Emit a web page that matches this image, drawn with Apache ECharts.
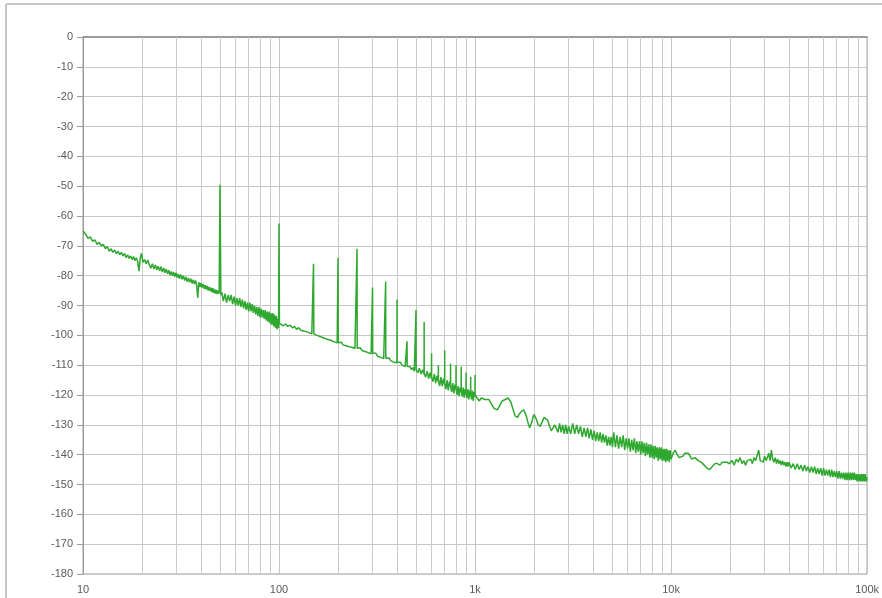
<!DOCTYPE html>
<html>
<head>
<meta charset="utf-8">
<script src="https://cdn.jsdelivr.net/npm/echarts@6/dist/echarts.min.js"></script>
<style>
html,body{margin:0;padding:0;background:#fff;}
#chart{width:882px;height:598px;}
</style>
</head>
<body>
<div id="chart"></div>
<script>
// Tick values and labels
const xTickValues = [10, 100, 1000, 10000, 100000];
const xTickLabels = ['10', '100', '1k', '10k', '100k'];
const yMin = -180, yMax = 0, yStep = 10;
// Minor (non-decade) vertical grid lines of the log axis
const minorGridFreqs = [20,30,40,50,60,70,80,90,
  200,300,400,500,600,700,800,900,
  2000,3000,4000,5000,6000,7000,8000,9000,
  20000,30000,40000,50000,60000,70000,80000,90000];

// Spectrum: [frequency Hz, level dB]
const spectrumLow = [
[10,-65],[10.3,-66],[10.6,-67.5],[10.9,-67],[11.2,-68.5],[11.5,-68],[11.8,-69.5],[12.1,-68.8],[12.4,-70],[12.7,-69.5],
[13,-71],[13.3,-70.2],[13.6,-71.8],[13.9,-71],[14.2,-72.2],[14.5,-71.4],[14.8,-72.6],[15.1,-71.8],[15.4,-73],[15.7,-72.2],
[16,-73.4],[16.3,-72.6],[16.6,-74],[16.9,-73],[17.2,-74.2],[17.5,-73.4],[17.8,-74.6],[18.1,-73.6],[18.4,-75],[18.7,-74],
[19,-75.2],[19.3,-78.5],[19.6,-74],[19.9,-72.5],[20.2,-75.5],[20.6,-74.6],[21,-76],[21.4,-74.8],[21.8,-76.4],[22.2,-77.5],
[22.6,-76],[23,-77.8],[23.4,-76.4],[23.8,-78],[24.2,-76.8],[24.6,-78.4],[25,-77],[25.4,-78.8],[25.8,-77.4],[26.2,-79],
[26.6,-77.8],[27,-79.4],[27.4,-78.2],[27.8,-79.8],[28.2,-78.6],[28.6,-80],[29,-78.8],[29.4,-80.4],[29.8,-79],[30.2,-80.6],
[30.6,-79.4],[31,-81],[31.5,-79.6],[32,-81.2],[32.5,-80],[33,-81.6],[33.5,-80.4],[34,-82],[34.5,-80.8],[35,-82.2],
[35.5,-81],[36,-82.6],[36.5,-81.4],[37,-82.8],[37.5,-81.6],[38,-83.2],[38.5,-87.5],[39,-82.2],[39.5,-83.8],[40,-82.4],
[40.5,-84],[41,-82.8],[41.5,-84.4],[42,-83.2],[42.5,-84.6],[43,-83.4],[43.5,-85],[44,-83.8],[44.5,-85.2],[45,-84],
[45.5,-85.6],[46,-84.2],[46.5,-85.8],[47,-84.6],[47.5,-86],[48,-84.8],[48.5,-86.2],[49,-85],[49.5,-86],[50,-49.5],[50.5,-86.5],
[51,-85.5],[52,-88.5],[53,-86],[54,-89],[55,-86.5],[56,-88.5],[57,-86.5],[58,-89.5],[59,-87],[60,-90],
[61,-87.5],[62,-90],[63,-87.5],[64,-90.5],[65,-88],[66,-91],[67,-88.5],[68,-91.5],[69,-89],[70,-92],
[71,-89],[72,-92],[73,-89.5],[74,-92.5],[75,-90],[76,-93],[77,-90.5],[78,-93.5],[79,-90.5],[80,-94],
[81,-91],[82,-94],[83,-91.5],[84,-94.5],[85,-91.5],[86,-95],[87,-92],[88,-95.5],[89,-92],[90,-96],
[91,-92.5],[92,-96.5],[93,-92.5],[94,-97],[95,-93],[96,-97.5],[97,-93.5],[98,-98],[99,-94.5],[99.5,-97.5],[100,-62.5],[100.5,-96]
];
const spectrumMid = [
[102,-96],[105,-96.8],[108,-96.2],[111,-97],[114,-96.6],[117,-97.5],[120,-97],[123,-98],[126,-97.4],[129,-98.3],
[132,-97.8],[135,-98.6],[138,-98],[141,-99],[144,-98.5],[147,-99.5],[149.5,-99.8],[150,-76],[150.5,-99.5],[153,-99.2],
[156,-100],[159,-99.5],[162,-100.4],[165,-100],[168,-100.8],[171,-100.3],[174,-101.2],[177,-100.6],[180,-101.5],[183,-101],
[186,-101.8],[189,-101.3],[192,-102.2],[195,-101.6],[198,-102.5],[199.5,-102.6],[200,-74],[200.5,-102.5],[204,-102.8],[208,-102.3],
[212,-103.2],[216,-102.7],[220,-103.5],[224,-103],[228,-103.8],[232,-103.2],[236,-104],[240,-103.6],[244,-104.4],[248,-104],
[249.5,-104.4],[250,-71],[250.5,-104.3],[255,-104.6],[260,-104.2],[265,-105.1],[270,-104.6],[275,-105.4],[280,-105],[285,-105.8],
[290,-105.3],[295,-106.2],[299.5,-106],[300,-84],[300.5,-106],[306,-106.5],[312,-106],[318,-107],[324,-106.5],[330,-107.4],
[336,-107],[342,-107.8],[348,-107.4],[349.5,-107.8],[350,-82],[350.5,-107.7],[357,-108],[364,-107.6],[371,-108.5],[378,-108],
[385,-109],[392,-108.5],[399.5,-109.2],[400,-88],[400.5,-109],[408,-109.5],[416,-109],[424,-110],[432,-109.4],[440,-110.5],
[449.5,-110.5],[450,-102],[450.5,-110.4],[458,-111],[466,-110.5],[474,-111.5],[482,-110.8],[490,-112],[499.5,-111.5],[500,-91.5],
[500.5,-111.5],[510,-112.5],[520,-111],[530,-113],[540,-111.5],[549.5,-113],[550,-95.5],[550.5,-112.8],[560,-114],[570,-112],
[580,-114.5],[590,-112.5],[599.5,-114.5],[600,-106],[600.5,-114],[610,-115.5],[620,-113],[630,-116],[640,-113.5],[649.5,-115.5],
[650,-110],[650.5,-115],[660,-117],[670,-114],[680,-117],[690,-114.5],[699.5,-116.5],[700,-105],[700.5,-116],[710,-118],
[720,-115],[730,-118.5],[740,-115.5],[749.5,-117],[750,-109.5],[750.5,-117],[760,-119],[770,-116],[780,-119.5],[790,-116.5],
[799.5,-118],[800,-110],[800.5,-118],[810,-120],[820,-117],[830,-120.5],[840,-117.5],[849.5,-119],[850,-110.5],[850.5,-118.5],
[860,-120.5],[870,-117.5],[880,-121],[890,-118],[899.5,-119.5],[900,-112.5],[900.5,-119.5],[910,-121],[920,-118],[930,-121.5],
[940,-118.5],[949.5,-120],[950,-114],[950.5,-120],[960,-121.5],[970,-118.5],[980,-122],[990,-119],[999.5,-120.5],[1000,-113.3],[1000.5,-120]
];
const spectrumHigh = [
[1025,-121],[1050,-122],[1075,-121],[1100,-120.5],[1125,-121.5],[1150,-122],[1175,-121.5],[1200,-122.5],[1225,-123.5],[1250,-124.5],
[1275,-125],[1300,-125],[1325,-124],[1350,-123],[1375,-122],[1400,-121.5],[1425,-121.5],[1450,-121],[1475,-121],[1500,-121.5],
[1525,-122.5],[1550,-124],[1575,-125.5],[1600,-127],[1625,-127.5],[1650,-127.5],[1675,-126.5],[1700,-126],[1725,-125.5],[1750,-125],
[1775,-125],[1800,-125.5],[1825,-127],[1850,-128.5],[1875,-130],[1900,-131],[1925,-130.5],[1950,-129],[1975,-127.5],[2000,-126.5],
[2050,-128],[2100,-130],[2150,-130.5],[2200,-129],[2250,-127.5],[2300,-127],[2350,-128.5],[2400,-130.5],[2450,-132],[2500,-131.5],
[2550,-130],[2600,-130],[2650,-132.5],[2700,-129.5],[2750,-132.5],[2800,-130],[2850,-133],[2900,-130],[2950,-133],[3000,-130.5],
[3075,-133],[3150,-129.5],[3225,-133],[3300,-130],[3375,-133],[3450,-130.5],[3525,-134],[3600,-131],[3675,-134],[3750,-131],
[3825,-134.5],[3900,-131.5],[3975,-135],[4050,-132],[4125,-135.5],[4200,-132.5],[4275,-135.5],[4350,-132.5],[4425,-136],[4500,-133],
[4575,-136],[4650,-133.5],[4725,-137],[4800,-134],[4875,-137],[4950,-134],[5025,-137.5],[5100,-132.5],[5200,-137.5],[5300,-133.5],
[5400,-138],[5500,-134],[5600,-137.5],[5700,-133.5],[5800,-138.5],[5900,-134.5],[6000,-138],[6100,-134.5],[6200,-139],[6300,-135],
[6400,-138.5],[6500,-134.5],[6600,-139.5],[6700,-135.5],[6800,-139],[6900,-135.5],[7000,-140],[7100,-135.5],[7200,-139.5],[7300,-136],
[7400,-140.5],[7500,-136],[7600,-140],[7700,-136.5],[7800,-141],[7900,-136.5],[8000,-141],[8100,-137],[8200,-141.5],[8300,-137],
[8400,-141],[8500,-137.5],[8600,-142],[8700,-137.5],[8800,-141.5],[8900,-137.5],[9000,-142],[9100,-138],[9200,-142],[9300,-138],
[9400,-142.5],[9500,-138],[9600,-142],[9700,-138.5],[9800,-142.5],[9900,-138.5],[10000,-141.5]
];
const spectrumTop = [
[10250,-139.5],[10500,-138.5],[10750,-140],[11000,-141],[11250,-141.5],[11500,-140.5],[11750,-139.5],[12000,-139],[12250,-139.5],[12500,-140.5],
[12750,-141.5],[13000,-141.5],[13250,-141],[13500,-141.5],[13750,-142],[14000,-142.5],[14250,-142.5],[14500,-143],[14750,-143.5],[15000,-144],
[15250,-144.5],[15500,-145],[15750,-145],[16000,-144.5],[16250,-144],[16500,-143.5],[16750,-143],[17000,-142.5],[17250,-143],[17500,-143.5],
[17750,-143.5],[18000,-143],[18250,-142.5],[18500,-142],[18750,-142.5],[19000,-143],[19250,-142.5],[19500,-142],[19750,-143],[20000,-143.5],
[20500,-142],[21000,-143.5],[21500,-141.5],[22000,-142.5],[22500,-141],[23000,-143],[23500,-142],[24000,-143.5],[24500,-142],[25000,-142.5],
[25500,-141.5],[26000,-143],[26500,-141],[27000,-142],[27500,-141.5],[28000,-138.5],[28500,-142],[29000,-141.5],[29500,-142.5],[30000,-140.5],
[30500,-142],[31000,-141],[31500,-139.5],[32000,-142],[32500,-138.5],[33000,-141.5],[33500,-142.5],[34000,-141],[34500,-143],[35000,-141.5],
[35500,-143],[36000,-142],[36500,-143.5],[37000,-142],[37500,-143.5],[38000,-142.5],[38500,-144],[39000,-142.5],[39500,-144],[40000,-142.5],
[41000,-144.5],[42000,-143],[43000,-145],[44000,-143],[45000,-145],[46000,-143.5],[47000,-145.5],[48000,-143.5],[49000,-145.5],[50000,-144],
[51000,-146],[52000,-144],[53000,-146],[54000,-144],[55000,-146.5],[56000,-144.5],[57000,-146.5],[58000,-144.5],[59000,-147],[60000,-144.5],
[61000,-147],[62000,-145],[63000,-147],[64000,-145],[65000,-147.5],[66000,-145],[67000,-147.5],[68000,-145.5],[69000,-147.5],[70000,-145.5],
[71000,-148],[72000,-145.5],[73000,-148],[74000,-146],[75000,-148],[76000,-146],[77000,-148.5],[78000,-146],[79000,-148.5],[80000,-146],
[81000,-148.5],[82000,-146],[83000,-148.5],[84000,-146],[85000,-148.5],[86000,-146],[87000,-148.5],[88000,-146.5],[89000,-149],[90000,-146.5],
[91000,-149],[92000,-146.5],[93000,-149],[94000,-146.5],[95000,-149],[96000,-146.5],[97000,-149],[98000,-146.5],[99000,-149],[100000,-147.5]
];

const spectrum = spectrumLow.concat(spectrumMid, spectrumHigh, spectrumTop);

const chart = echarts.init(document.getElementById('chart'), null, {renderer: 'canvas'});
const labelFont = {color: '#5a5a5a', fontSize: 11, fontFamily: 'Liberation Sans, Arial, sans-serif'};

chart.setOption({
  animation: false,
  backgroundColor: '#ffffff',
  grid: {left: 83, right: 9, top: 37, bottom: 24, show: true, borderColor: '#9a9a9a', borderWidth: 1, backgroundColor: 'transparent'},
  graphic: [
    {type: 'line', z: 100, shape: {x1: 6, y1: 4, x2: 882, y2: 4}, style: {stroke: '#c6c6c6', lineWidth: 2}},
    {type: 'line', z: 100, shape: {x1: 6, y1: 4, x2: 6, y2: 598}, style: {stroke: '#c6c6c6', lineWidth: 2}}
  ],
  xAxis: {
    type: 'log', logBase: 10, min: xTickValues[0], max: xTickValues[xTickValues.length - 1],
    axisLine: {show: true, lineStyle: {color: '#8a8a8a', width: 1.5}},
    axisTick: {show: false},
    splitLine: {show: true, lineStyle: {color: '#c4c4c4', width: 1}},
    minorTick: {show: false}, minorSplitLine: {show: false},
    axisLabel: Object.assign({margin: 10, showMaxLabel: true, showMinLabel: true,
      formatter: function (v) {
        const i = xTickValues.findIndex(t => Math.abs(t - v) / t < 1e-6);
        return i >= 0 ? xTickLabels[i] : '';
      }}, labelFont)
  },
  yAxis: {
    type: 'value', min: yMin, max: yMax, interval: yStep,
    axisLine: {show: true, lineStyle: {color: '#9a9a9a', width: 1}},
    axisTick: {show: true, length: 6, lineStyle: {color: '#9a9a9a'}},
    splitLine: {show: true, lineStyle: {color: '#c8c8c8', width: 1}},
    axisLabel: Object.assign({margin: 10}, labelFont)
  },
  series: [
    {
      type: 'line', data: [], z: 1, silent: true,
      markLine: {
        silent: true, z: 1, animation: false, symbol: ['none', 'none'],
        label: {show: false}, emphasis: {disabled: true},
        lineStyle: {color: '#cbcbcb', width: 1, type: 'solid'},
        data: minorGridFreqs.map(f => ({xAxis: f}))
      }
    },
    {
      type: 'line', data: spectrum, z: 3, showSymbol: false, symbol: 'none',
      sampling: false, silent: true,
      lineStyle: {color: '#2fa82f', width: 1.5}
    }
  ]
});
</script>
</body>
</html>
